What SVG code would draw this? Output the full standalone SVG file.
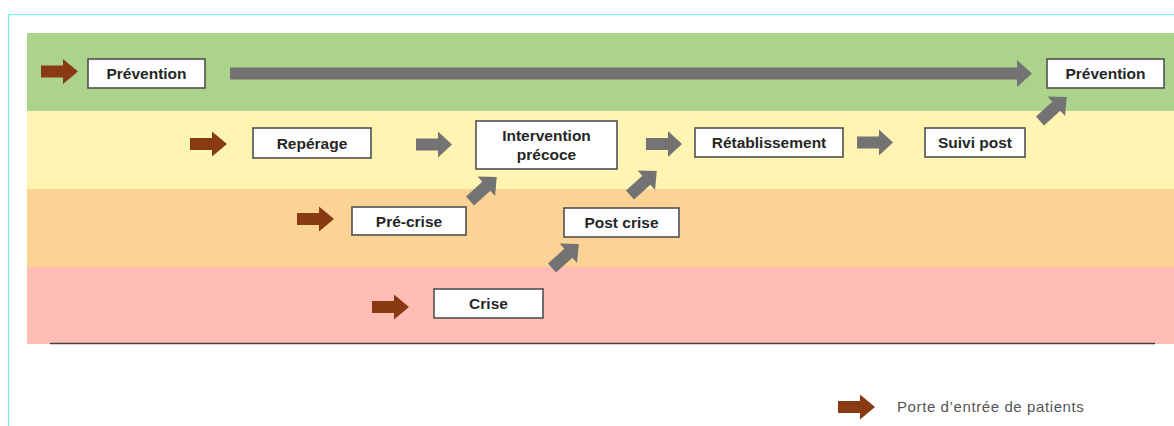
<svg xmlns="http://www.w3.org/2000/svg" width="1174" height="426" viewBox="0 0 1174 426">
<style>
.box{fill:#fff;stroke:#505050;stroke-width:1.6}
.lbl{font-family:"Liberation Sans",Arial,sans-serif;font-weight:bold;font-size:15.5px;fill:#262626;text-anchor:middle}
.gray{fill:#737373}
.brown{fill:#8a3a12}
.legend{font-family:"Liberation Sans",Arial,sans-serif;font-size:15px;letter-spacing:0.6px;fill:#555}
</style>
<defs>
<path id="ga" d="M0,-6 H22 V-13 L36,0 L22,13 V6 H0 Z"/>
<path id="ba" d="M0,-6 H22 V-12.5 L37,0 L22,12.5 V6 H0 Z"/>
</defs>
<rect width="1174" height="426" fill="#fff"/>
<g id="frame" fill="none" stroke="#6ff0f0" stroke-width="1.2">
<path d="M8.5,426 V14.5 H1174"/>
</g>
<g id="bands">
<rect x="27" y="33" width="1147" height="78" fill="#acd38b"/>
<rect x="27" y="111" width="1147" height="78" fill="#fff4b2"/>
<rect x="27" y="189" width="1147" height="78" fill="#fbd394"/>
<rect x="27" y="267" width="1147" height="77" fill="#ffbdb6"/>
<line x1="50" y1="343.5" x2="1155" y2="343.5" stroke="#4a3c3c" stroke-width="1.6"/>
</g>
<g id="entries" class="brown">
<use href="#ba" transform="translate(41,71.5)"/>
<use href="#ba" transform="translate(190,144)"/>
<use href="#ba" transform="translate(297,219)"/>
<use href="#ba" transform="translate(372,307)"/>
</g>
<g id="connectors" class="gray">
<path d="M230,67.5 H1017 V60 L1032,73.5 L1017,87 V79.5 H230 Z"/>
<use href="#ga" transform="translate(416,144.5)"/>
<use href="#ga" transform="translate(646,144)"/>
<use href="#ga" transform="translate(857,142.5)"/>
<use href="#ga" transform="translate(470,201) rotate(-42)"/>
<use href="#ga" transform="translate(630,195) rotate(-42)"/>
<use href="#ga" transform="translate(552,268) rotate(-42)"/>
<use href="#ga" transform="translate(1040,121) rotate(-42)"/>
</g>
<g id="prevention-1"><rect class="box" x="88" y="59" width="117" height="29"/><text class="lbl" x="146.5" y="79">Prévention</text></g>
<g id="reperage"><rect class="box" x="253" y="128" width="118" height="30"/><text class="lbl" x="312" y="148.5">Repérage</text></g>
<g id="intervention-precoce"><rect class="box" x="476" y="121" width="141" height="48"/><text class="lbl" x="546.5" y="140.5">Intervention</text><text class="lbl" x="546.5" y="160">précoce</text></g>
<g id="retablissement"><rect class="box" x="695" y="128" width="148" height="29"/><text class="lbl" x="769" y="148">Rétablissement</text></g>
<g id="suivi-post"><rect class="box" x="925" y="128" width="100" height="29"/><text class="lbl" x="975" y="148">Suivi post</text></g>
<g id="prevention-2"><rect class="box" x="1047" y="59" width="117" height="29"/><text class="lbl" x="1105.5" y="79">Prévention</text></g>
<g id="pre-crise"><rect class="box" x="352" y="207" width="114" height="28"/><text class="lbl" x="409" y="226.5">Pré-crise</text></g>
<g id="post-crise"><rect class="box" x="564" y="208" width="115" height="29"/><text class="lbl" x="621.5" y="228">Post crise</text></g>
<g id="crise"><rect class="box" x="434" y="289" width="109" height="29"/><text class="lbl" x="488.5" y="309">Crise</text></g>
<g id="legend">
<use href="#ba" class="brown" transform="translate(838,407)"/>
<text class="legend" x="897" y="412">Porte d’entrée de patients</text>
</g>
</svg>
